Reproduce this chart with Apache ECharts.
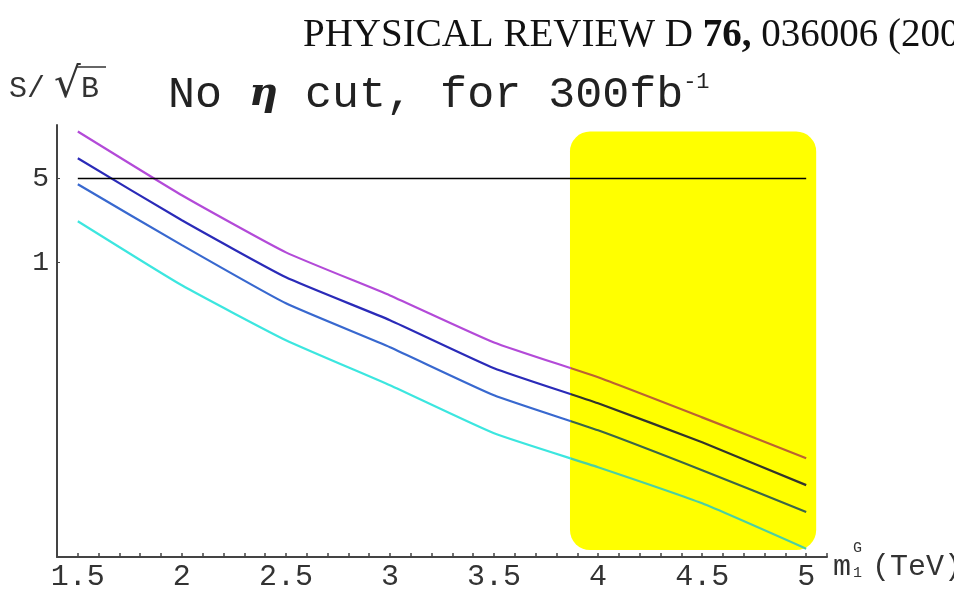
<!DOCTYPE html>
<html>
<head>
<meta charset="utf-8">
<script src="https://cdn.jsdelivr.net/npm/echarts@6/dist/echarts.min.js"></script>
<style>
  html, body { margin: 0; padding: 0; background: #fff; }
  #chart { width: 954px; height: 592px; }
</style>
</head>
<body>
<div id="chart"></div>
<script>
// masses (TeV) where S/sqrt(B) was sampled
const masses = [1.5, 2, 2.5, 3, 3.5, 4, 4.5, 5];
// four curves
const curveMagenta = [12.3, 3.62, 1.21, 0.53, 0.215, 0.110, 0.051, 0.0233];
const curveBlue    = [7.36, 2.24, 0.75, 0.329, 0.131, 0.0668, 0.0316, 0.0139];
const curveMid     = [4.47, 1.39, 0.455, 0.196, 0.078, 0.0398, 0.0185, 0.0083];
const curveCyan    = [2.20, 0.643, 0.224, 0.0944, 0.0376, 0.0196, 0.0098, 0.0041];
// 5 sigma reference line
const discovery = [[1.5, 5], [5, 5]];
// yellow band [xFrom, xTo, yFrom, yTo]
const band = [[3.865, 5.048, 0.004, 12.3]];
const yTicks = [1, 5];
const xLabels = [1.5, 2, 2.5, 3, 3.5, 4, 4.5, 5];

const pair = (ys) => masses.map((m, i) => [m, ys[i]]);
const mono = '"Liberation Mono", "DejaVu Sans Mono", monospace';
const serif = '"Liberation Serif", "DejaVu Serif", serif';

// colour outside / inside the yellow band (band looks multiplied over the lines)
const curves = [
  { ys: curveMagenta, out: '#b34ad8', inside: '#bb6232' },
  { ys: curveBlue,    out: '#2a2ab8', inside: '#33342c' },
  { ys: curveMid,     out: '#3868cf', inside: '#3b6648' },
  { ys: curveCyan,    out: '#3ce6df', inside: '#4ccfa2' }
];

// where the band starts, as a fraction of the curve's x extent
const split = (band[0][0] - masses[0]) / (masses[masses.length - 1] - masses[0]);

const series = curves.map(c => ({
  type: 'line',
  data: pair(c.ys),
  symbol: 'none',
  smooth: 0.15,
  z: 3,
  lineStyle: {
    width: 2.2,
    color: new echarts.graphic.LinearGradient(0, 0, 1, 0, [
      { offset: 0, color: c.out },
      { offset: split, color: c.out },
      { offset: split, color: c.inside },
      { offset: 1, color: c.inside }
    ])
  }
}));
series.push({
  type: 'line',
  data: discovery,
  symbol: 'none',
  z: 3,
  lineStyle: { color: '#000', width: 1.6 }
});
series.push({
  type: 'custom',
  z: 1,
  clip: false,
  silent: true,
  data: band,
  encode: { x: [0, 1], y: [2, 3] },
  renderItem: (params, api) => {
    const p1 = api.coord([api.value(0), api.value(3)]);
    const p2 = api.coord([api.value(1), api.value(2)]);
    return {
      type: 'rect',
      shape: { x: p1[0], y: p1[1], width: p2[0] - p1[0], height: p2[1] - p1[1], r: 20 },
      style: { fill: '#ffff00' }
    };
  }
});

const option = {
  backgroundColor: '#fff',
  animation: false,
  grid: { left: 57, right: 127, top: 125, bottom: 35 },
  title: [{
    text: '{a|No }{e|η}{a| cut, for 300fb}{s|-1}',
    left: 163, top: 66,
    textStyle: {
      rich: {
        a: { fontFamily: mono, fontWeight: 'normal', fontSize: 45, color: '#222' },
        e: { fontFamily: '"DejaVu Serif", serif', fontStyle: 'italic', fontWeight: 'bold', fontSize: 40, color: '#222' },
        s: { fontFamily: mono, fontWeight: 'normal', fontSize: 22, color: '#222', verticalAlign: 'top', padding: [0, 0, 26, 0] }
      }
    }
  }, {
    text: '{n|PHYSICAL REVIEW D }{b|76,}{n| 036006 (2007)}',
    left: 298, top: 11,
    textStyle: {
      rich: {
        n: { fontFamily: serif, fontSize: 39, fontWeight: 'normal', color: '#111' },
        b: { fontFamily: serif, fontSize: 39, fontWeight: 'bold', color: '#111' }
      }
    }
  }],
  graphic: [
    { type: 'text', left: 9, top: 74, style: { text: 'S/', font: '30px ' + mono, fill: '#333' } },
    { type: 'text', left: 54, top: 65, style: { text: '√', font: '42px "DejaVu Sans", sans-serif', fill: '#333' } },
    { type: 'text', left: 81, top: 74, style: { text: 'B', font: '30px ' + mono, fill: '#333' } },
    { type: 'line', shape: { x1: 76, y1: 67, x2: 106, y2: 67 }, style: { stroke: '#333', lineWidth: 1.5 } },
    { type: 'text', left: 833, top: 552, style: { text: 'm', font: '30px ' + mono, fill: '#333' } },
    { type: 'text', left: 853, top: 541, style: { text: 'G', font: '15px ' + mono, fill: '#333' } },
    { type: 'text', left: 853, top: 566, style: { text: '1', font: '15px ' + mono, fill: '#333' } },
    { type: 'text', left: 872, top: 552, style: { text: '(TeV)', font: '30px ' + mono, fill: '#333' } }
  ],
  xAxis: {
    type: 'value',
    min: 1.4,
    max: 5.1,
    interval: 0.1,
    axisLine: { lineStyle: { color: '#444', width: 2 } },
    axisTick: { inside: true, length: 4, lineStyle: { color: '#444', width: 1.5 } },
    splitLine: { show: false },
    axisLabel: {
      fontFamily: mono, fontSize: 30, color: '#333', margin: 5,
      formatter: (v) => {
        const r = Math.round(v * 10) / 10;
        return xLabels.includes(r) ? String(r) : '';
      }
    }
  },
  yAxis: {
    type: 'log',
    logBase: 10,
    min: 0.0035,
    max: 13.94,
    axisLine: { show: true, lineStyle: { color: '#444', width: 2 } },
    axisTick: { show: true, inside: true, length: 3, customValues: yTicks, lineStyle: { color: '#444' } },
    splitLine: { show: false },
    minorTick: { show: false },
    axisLabel: {
      customValues: yTicks,
      fontFamily: mono, fontSize: 28, color: '#333', margin: 8
    }
  },
  series: series
};

const chart = echarts.init(document.getElementById('chart'), null, { renderer: 'canvas' });
chart.setOption(option);
window.addEventListener('resize', () => chart.resize());
</script>
</body>
</html>
